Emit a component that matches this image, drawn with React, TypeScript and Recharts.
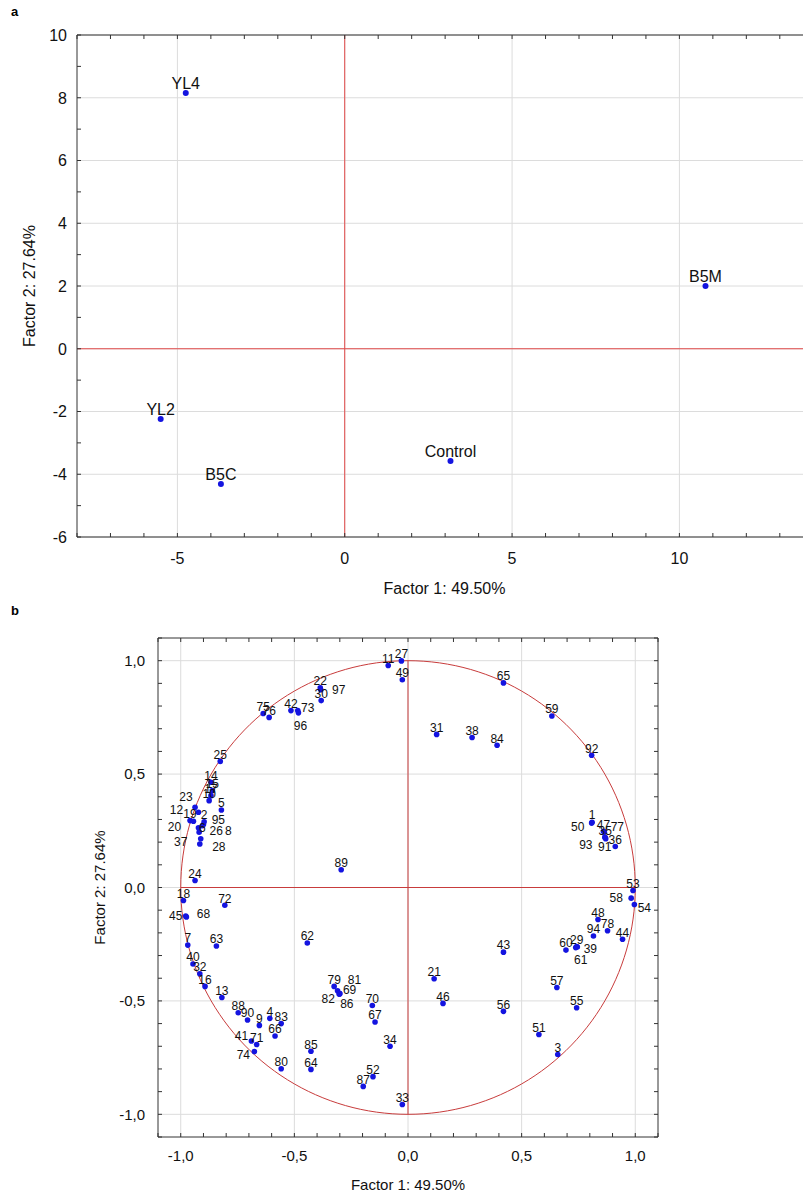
import { ReferenceLine, Scatter, ScatterChart, XAxis, YAxis } from "recharts";

const FONT = "Arial, 'Liberation Sans', Helvetica, sans-serif";

// panel a: factor scores of the samples
const sampleNames = ["YL4", "YL2", "B5C", "Control", "B5M"];
const sampleF1 = [-4.75, -5.5, -3.7, 3.16, 10.78];
const sampleF2 = [8.15, -2.24, -4.31, -3.58, 2.0];

const aXLabels = [-5, 0, 5, 10];
const aYLabels = [-6, -4, -2, 0, 2, 4, 6, 8, 10];

// panel b: variable loadings [id, factor 1, factor 2]
const loadings: [string, number, number][] = [
  ["11", -0.087, 0.979], ["27", -0.029, 0.999], ["49", -0.025, 0.916],
  ["22", -0.386, 0.88], ["97", -0.384, 0.872], ["30", -0.382, 0.824],
  ["75", -0.637, 0.767], ["76", -0.611, 0.75], ["42", -0.515, 0.78],
  ["73", -0.485, 0.78], ["96", -0.482, 0.77], ["25", -0.826, 0.556],
  ["14", -0.867, 0.464], ["15", -0.861, 0.427], ["17", -0.867, 0.405],
  ["10", -0.875, 0.383], ["5", -0.821, 0.342], ["23", -0.937, 0.354],
  ["12", -0.922, 0.332], ["19", -0.959, 0.295], ["20", -0.944, 0.292],
  ["2", -0.897, 0.29], ["6", -0.9, 0.278], ["95", -0.905, 0.272],
  ["8", -0.922, 0.263], ["26", -0.919, 0.244], ["37", -0.912, 0.215],
  ["28", -0.916, 0.192], ["24", -0.937, 0.031], ["89", -0.294, 0.078],
  ["31", 0.126, 0.675], ["38", 0.282, 0.661], ["84", 0.392, 0.627],
  ["65", 0.42, 0.902], ["59", 0.633, 0.756], ["92", 0.808, 0.583],
  ["1", 0.81, 0.288], ["50", 0.808, 0.284], ["47", 0.86, 0.248],
  ["77", 0.864, 0.244], ["35", 0.868, 0.219], ["91", 0.87, 0.215],
  ["93", 0.866, 0.222], ["36", 0.912, 0.181], ["53", 0.99, -0.013],
  ["58", 0.982, -0.047], ["54", 0.996, -0.075], ["48", 0.836, -0.141],
  ["78", 0.878, -0.191], ["94", 0.816, -0.214], ["44", 0.944, -0.228],
  ["60", 0.695, -0.276], ["29", 0.742, -0.26], ["39", 0.745, -0.262],
  ["61", 0.738, -0.265], ["43", 0.42, -0.285], ["21", 0.115, -0.402],
  ["46", 0.154, -0.511], ["56", 0.42, -0.546], ["57", 0.655, -0.441],
  ["55", 0.742, -0.53], ["51", 0.576, -0.648], ["3", 0.659, -0.736],
  ["18", -0.988, -0.057], ["72", -0.806, -0.078], ["45", -0.978, -0.126],
  ["68", -0.975, -0.13], ["7", -0.969, -0.254], ["63", -0.843, -0.258],
  ["62", -0.443, -0.245], ["40", -0.946, -0.337], ["32", -0.916, -0.38],
  ["16", -0.893, -0.436], ["13", -0.819, -0.485], ["88", -0.747, -0.552],
  ["90", -0.706, -0.584], ["9", -0.654, -0.608], ["4", -0.608, -0.577],
  ["83", -0.558, -0.6], ["66", -0.585, -0.655], ["41", -0.689, -0.677],
  ["71", -0.666, -0.692], ["74", -0.676, -0.723], ["80", -0.558, -0.799],
  ["85", -0.427, -0.722], ["64", -0.427, -0.802], ["79", -0.325, -0.436],
  ["81", -0.31, -0.455], ["69", -0.301, -0.468], ["82", -0.303, -0.47],
  ["86", -0.3, -0.468], ["70", -0.157, -0.52], ["67", -0.145, -0.593],
  ["34", -0.079, -0.7], ["52", -0.154, -0.834], ["87", -0.197, -0.877],
  ["33", -0.025, -0.957],
];

const bMajor = [-1, -0.5, 0, 0.5, 1];
const bMajorLabels = ["-1,0", "-0,5", "0,0", "0,5", "1,0"];

// where labels sit off their dot in crowded spots (px, text centre)
const labelNudge: Record<string, [number, number]> = {
  "97": [18, 0], "96": [2, 13], "73": [10, -3], "23": [-9, -11],
  "12": [-22, -3], "20": [-19, 5], "6": [-1, 3], "95": [16, -6],
  "8": [30, 3], "26": [17, -1], "37": [-20, 3], "28": [19, 3],
  "50": [-14, 4], "77": [13, -5], "93": [-19, 8], "91": [-1, 8],
  "58": [-15, 0], "54": [10, 3], "39": [13, 2], "61": [5, 12],
  "45": [-10, 0], "68": [17, -3], "41": [-10, -5], "74": [-11, 3],
  "81": [17, -11], "69": [10, -4], "82": [-11, 5], "86": [7, 10],
};

const range = (a: number, b: number, step: number) => {
  const out: number[] = [];
  for (let v = a; v <= b + 1e-9; v += step) out.push(Math.round(v * 100) / 100);
  return out;
};

const aXTicks = range(-8, 14, 1);
const aYTicks = range(-6, 10, 1);
const bTicks = range(-1.1, 1.1, 0.1);

const scores = sampleNames.map((name, i) => ({ name, x: sampleF1[i], y: sampleF2[i] }));
const loadPts = loadings.map(([name, x, y]) => ({ name, x, y }));
const unitCircle = range(0, 360, 2).map((d) => ({
  x: Math.cos((d * Math.PI) / 180),
  y: Math.sin((d * Math.PI) / 180),
}));

type Side = "left" | "right" | "top" | "bottom";

function makeTick(
  side: Side,
  fmt: ((v: number) => string) | null,
  len: number,
  fontSize: number,
  gap: number
) {
  return function Tick(props: any) {
    const { x, y, payload } = props;
    const txt = fmt ? fmt(payload.value) : "";
    let line = null;
    let label = null;
    const ts = { fontSize, fontFamily: FONT, fill: "#111" };
    if (side === "bottom") {
      line = <line x1={x} y1={y} x2={x} y2={y - len} stroke="#333" />;
      if (txt) label = <text x={x} y={y + gap} textAnchor="middle" style={ts}>{txt}</text>;
    } else if (side === "top") {
      line = <line x1={x} y1={y} x2={x} y2={y + len} stroke="#333" />;
    } else if (side === "left") {
      line = <line x1={x} y1={y} x2={x + len} y2={y} stroke="#333" />;
      if (txt)
        label = (
          <text x={x - gap} y={y + fontSize * 0.36} textAnchor="end" style={ts}>
            {txt}
          </text>
        );
    } else {
      line = <line x1={x} y1={y} x2={x - len} y2={y} stroke="#333" />;
    }
    return (
      <g>
        {line}
        {label}
      </g>
    );
  };
}

const fmtAX = (v: number) => (aXLabels.includes(v) ? String(v) : "");
const fmtAY = (v: number) => (aYLabels.includes(v) ? String(v) : "");
const fmtB = (v: number) => {
  const i = bMajor.findIndex((m) => Math.abs(m - v) < 1e-6);
  return i >= 0 ? bMajorLabels[i] : "";
};

const Dot = (r: number) =>
  function DotShape(p: any) {
    return <circle cx={p.cx} cy={p.cy} r={r} fill="#1414e0" />;
  };

const NameLabel = (fontSize: number, dyDefault: number) =>
  function LabelShape(p: any) {
    const name = p.payload.name;
    const [dx, dy] = labelNudge[name] && fontSize < 14 ? labelNudge[name] : [0, dyDefault];
    return (
      <text
        x={p.cx + dx}
        y={p.cy + dy + fontSize * 0.36}
        textAnchor="middle"
        style={{ fontSize, fontFamily: FONT, fill: "#111" }}
      >
        {name}
      </text>
    );
  };

const axisLine = { stroke: "#333" };

function PanelA() {
  return (
    <ScatterChart width={830} height={600} margin={{ top: 34, right: 0, bottom: 0, left: 17 }}>
      <XAxis
        type="number"
        dataKey="x"
        domain={[-8, 14.5]}
        allowDataOverflow
        ticks={aXTicks}
        interval={0}
        tickSize={0}
        tickMargin={0}
        tickLine={false}
        axisLine={axisLine}
        height={63}
        tick={makeTick("bottom", fmtAX, 4, 16, 27)}
        label={{ value: "Factor 1: 49.50%", position: "insideBottom", offset: 6, dx: -9, style: { fontSize: 16, fontFamily: FONT, fill: "#111" } }}
      />
      <XAxis
        xAxisId="top"
        orientation="top"
        type="number"
        dataKey="x"
        domain={[-8, 14.5]}
        allowDataOverflow
        ticks={aXTicks}
        interval={0}
        tickSize={0}
        tickMargin={0}
        tickLine={false}
        axisLine={axisLine}
        height={1}
        tick={makeTick("top", null, 4, 16, 0)}
      />
      <YAxis
        type="number"
        dataKey="y"
        domain={[-6, 10]}
        allowDataOverflow
        ticks={aYTicks}
        interval={0}
        tickSize={0}
        tickMargin={0}
        tickLine={false}
        axisLine={axisLine}
        width={60}
        tick={makeTick("left", fmtAY, 4, 16, 10)}
        label={{ value: "Factor 2: 27.64%", angle: -90, position: "insideLeft", offset: 12, style: { textAnchor: "middle", fontSize: 16, fontFamily: FONT, fill: "#111" } }}
      />
      {aXLabels.map((v) => (
        <ReferenceLine key={"gx" + v} x={v} stroke="#dcdcdc" />
      ))}
      {aYLabels.map((v) => (
        <ReferenceLine key={"gy" + v} y={v} stroke="#dcdcdc" />
      ))}
      <ReferenceLine x={0} stroke="#e24a4a" />
      <ReferenceLine y={0} stroke="#e24a4a" />
      <Scatter data={scores} shape={Dot(3)} isAnimationActive={false} />
      <Scatter data={scores} xAxisId="top" shape={NameLabel(16, -10)} isAnimationActive={false} />
    </ScatterChart>
  );
}

function PanelB() {
  return (
    <ScatterChart width={803} height={594} margin={{ top: 37, right: 144, bottom: 0, left: 98 }}>
      <XAxis
        type="number"
        dataKey="x"
        domain={[-1.1, 1.1]}
        allowDataOverflow
        ticks={bTicks}
        interval={0}
        tickSize={0}
        tickMargin={0}
        tickLine={false}
        axisLine={axisLine}
        height={57}
        tick={makeTick("bottom", fmtB, 4, 15, 24)}
        label={{ value: "Factor 1: 49.50%", position: "insideBottom", offset: 4, style: { fontSize: 15, fontFamily: FONT, fill: "#111" } }}
      />
      <XAxis
        xAxisId="top"
        orientation="top"
        type="number"
        dataKey="x"
        domain={[-1.1, 1.1]}
        allowDataOverflow
        ticks={bTicks}
        interval={0}
        tickSize={0}
        tickMargin={0}
        tickLine={false}
        axisLine={axisLine}
        height={1}
        tick={makeTick("top", null, 4, 15, 0)}
      />
      <YAxis
        type="number"
        dataKey="y"
        domain={[-1.1, 1.1]}
        allowDataOverflow
        ticks={bTicks}
        interval={0}
        tickSize={0}
        tickMargin={0}
        tickLine={false}
        axisLine={axisLine}
        width={60}
        tick={makeTick("left", fmtB, 4, 15, 13)}
        label={{ value: "Factor 2: 27.64%", angle: -90, position: "insideLeft", offset: 2, style: { textAnchor: "middle", fontSize: 15, fontFamily: FONT, fill: "#111" } }}
      />
      <YAxis
        yAxisId="right"
        orientation="right"
        type="number"
        dataKey="y"
        domain={[-1.1, 1.1]}
        allowDataOverflow
        ticks={bTicks}
        interval={0}
        tickSize={0}
        tickMargin={0}
        tickLine={false}
        axisLine={axisLine}
        width={1}
        tick={makeTick("right", null, 4, 15, 0)}
      />
      {bMajor.map((v) => (
        <ReferenceLine key={"gx" + v} x={v} stroke="#dcdcdc" />
      ))}
      {bMajor.map((v) => (
        <ReferenceLine key={"gy" + v} y={v} stroke="#dcdcdc" />
      ))}
      <ReferenceLine segment={[{ x: 0, y: -1 }, { x: 0, y: 1 }]} stroke="#c83c3c" />
      <ReferenceLine segment={[{ x: -1, y: 0 }, { x: 1, y: 0 }]} stroke="#c83c3c" />
      <Scatter
        data={unitCircle}
        line={{ stroke: "#c83c3c", strokeWidth: 1 }}
        lineType="joint"
        shape={() => <g />}
        isAnimationActive={false}
      />
      <Scatter data={loadPts} shape={Dot(2.8)} isAnimationActive={false} />
      <Scatter
        data={loadPts}
        xAxisId="top"
        yAxisId="right"
        shape={NameLabel(12, -7)}
        isAnimationActive={false}
      />
    </ScatterChart>
  );
}

export default function App() {
  const tag = { position: "absolute" as const, left: 11, fontFamily: FONT, fontWeight: 700, fontSize: 13 };
  return (
    <div style={{ position: "absolute", left: 0, top: 0, width: 803, height: 1194, overflow: "hidden", background: "#fff" }}>
      <div style={{ ...tag, top: 4 }}>a</div>
      <div style={{ position: "absolute", left: 0, top: 0, width: 803, height: 600, overflow: "hidden" }}>
        <PanelA />
      </div>
      <div style={{ ...tag, top: 603 }}>b</div>
      <div style={{ position: "absolute", left: 0, top: 600, width: 803, height: 594 }}>
        <PanelB />
      </div>
    </div>
  );
}
